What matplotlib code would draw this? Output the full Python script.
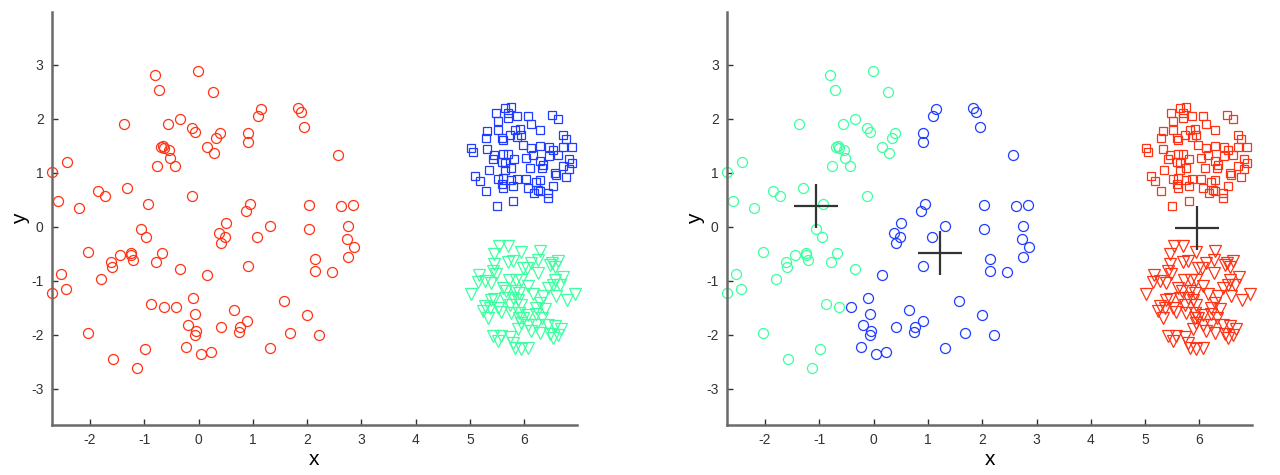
import numpy as np
import matplotlib
matplotlib.use("Agg")
import matplotlib.pyplot as plt

plt.rcParams['font.family'] = ['Liberation Sans', 'DejaVu Sans']
plt.rcParams['axes.unicode_minus'] = False

# ---- data: ring-like group (circles) ----
circ_x = [-0.81, -0.72, -1.38, -2.43, -2.70, -0.76, -1.85, -1.73, -1.31, -2.59,
          -2.20, -0.94, -0.01, 0.26, -0.56, -0.35, -0.13, -0.07, 0.39, 0.33,
          1.15, 1.09, 0.91, 0.91, -0.69, -0.66, -0.63, -0.55, -0.52, -0.44,
          0.15, 0.29, -0.13, 0.94, 0.87, 0.51, 1.83, 1.89, 1.95, 2.57,
          2.04, 2.63, 2.84, 1.31, -1.06, -0.96, -2.04, -1.62, -1.60, -1.45,
          -1.25, -1.24, -1.21, -0.68, -0.79, -2.53, -1.79, -2.44, -2.70, -0.88,
          -2.04, -0.99, -1.57, -1.13, 0.37, 0.48, 0.42, 1.07, -0.35, 0.15,
          0.91, -0.10, -0.63, -0.42, -0.07, 0.65, -0.20, -0.04, -0.06, 0.42,
          0.90, 0.76, 0.74, -0.23, 0.05, 0.23, 1.31, 2.03, 2.75, 2.73,
          2.86, 2.75, 2.14, 2.14, 2.45, 1.58, 1.99, 1.68, 2.21]
circ_y = [2.81, 2.54, 1.90, 1.21, 1.01, 1.13, 0.67, 0.58, 0.72, 0.47,
          0.35, 0.42, 2.89, 2.49, 1.90, 2.00, 1.83, 1.76, 1.73, 1.64,
          2.18, 2.06, 1.73, 1.58, 1.48, 1.49, 1.46, 1.43, 1.28, 1.12,
          1.47, 1.36, 0.58, 0.42, 0.30, 0.08, 2.21, 2.12, 1.85, 1.33,
          0.41, 0.38, 0.41, 0.02, -0.04, -0.19, -0.46, -0.66, -0.75, -0.52,
          -0.48, -0.52, -0.62, -0.49, -0.65, -0.88, -0.97, -1.15, -1.23, -1.43,
          -1.96, -2.26, -2.44, -2.61, -0.12, -0.18, -0.30, -0.19, -0.78, -0.90,
          -0.73, -1.31, -1.48, -1.48, -1.62, -1.54, -1.81, -1.92, -2.00, -1.86,
          -1.75, -1.86, -1.95, -2.22, -2.35, -2.32, -2.24, -0.04, 0.01, -0.23,
          -0.38, -0.55, -0.60, -0.81, -0.84, -1.37, -1.64, -1.97, -2.00]

# ---- data: upper compact group (squares) ----
sq_x = [5.76, 5.64, 5.70, 5.48, 5.52, 5.69, 5.86, 5.32, 5.30, 5.51,
        5.58, 5.61, 5.73, 5.82, 5.92, 5.86, 5.94, 5.01, 5.06, 5.32,
        5.45, 5.43, 5.61, 5.70, 5.58, 5.64, 5.81, 5.76, 5.34, 5.64,
        5.10, 5.18, 5.52, 5.61, 5.75, 5.86, 5.58, 5.30, 5.61, 5.80,
        5.49, 5.80, 5.98, 6.06, 6.50, 6.62, 6.13, 6.28, 6.71, 6.77,
        6.13, 6.28, 6.45, 6.52, 6.71, 6.88, 6.16, 6.62, 6.03, 6.28,
        6.45, 6.34, 6.33, 6.83, 6.88, 6.10, 6.71, 6.83, 6.57, 6.59,
        6.77, 6.03, 6.06, 6.21, 6.29, 6.52, 6.25, 6.17, 6.43, 6.28,
        6.43]
sq_y = [2.22, 2.20, 2.11, 2.11, 1.96, 2.01, 2.05, 1.78, 1.65, 1.80,
        1.65, 1.60, 1.70, 1.80, 1.82, 1.66, 1.71, 1.46, 1.39, 1.45,
        1.33, 1.25, 1.35, 1.35, 1.20, 1.19, 1.25, 1.09, 1.06, 1.06,
        0.94, 0.85, 0.88, 0.91, 0.86, 0.89, 0.80, 0.66, 0.72, 0.75,
        0.39, 0.48, 1.52, 2.06, 2.07, 1.99, 1.91, 1.79, 1.70, 1.62,
        1.46, 1.49, 1.48, 1.43, 1.48, 1.48, 1.33, 1.33, 1.28, 1.22,
        1.31, 1.14, 1.09, 1.25, 1.19, 1.09, 1.12, 1.08, 1.00, 0.96,
        0.92, 0.89, 0.72, 0.83, 0.86, 0.75, 0.69, 0.63, 0.63, 0.67,
        0.54]

# ---- data: lower compact group (triangles) ----
tri_x = [5.54, 5.70, 5.45, 5.94, 5.45, 5.70, 5.79, 5.97, 5.17, 5.42,
         5.48, 5.14, 5.27, 5.39, 5.71, 5.85, 5.94, 5.02, 5.60, 5.67,
         5.82, 5.91, 5.45, 5.39, 5.64, 5.79, 5.88, 5.27, 5.36, 5.51,
         5.73, 5.94, 5.24, 5.57, 5.76, 5.91, 5.33, 5.91, 5.94, 5.88,
         5.42, 5.57, 5.73, 5.51, 5.79, 5.82, 5.94, 6.29, 6.13, 6.26,
         6.50, 6.62, 6.47, 6.56, 6.04, 6.26, 6.56, 6.72, 6.53, 6.65,
         6.07, 6.44, 6.93, 6.16, 6.35, 6.59, 6.78, 6.29, 6.22, 6.38,
         6.07, 6.22, 6.32, 5.98, 6.07, 6.22, 6.44, 6.56, 6.68, 6.13,
         6.29, 6.47, 6.62, 6.53, 6.07]
tri_y = [-0.36, -0.36, -0.50, -0.46, -0.69, -0.65, -0.64, -0.77, -0.89, -0.82,
         -0.88, -1.02, -1.01, -1.04, -0.99, -0.98, -0.98, -1.25, -1.14, -1.19,
         -1.19, -1.22, -1.33, -1.36, -1.31, -1.31, -1.35, -1.47, -1.50, -1.50,
         -1.44, -1.44, -1.55, -1.57, -1.59, -1.59, -1.69, -1.69, -1.78, -1.90,
         -2.02, -2.02, -2.04, -2.12, -2.15, -2.24, -2.27, -0.45, -0.67, -0.62,
         -0.67, -0.64, -0.71, -0.75, -0.77, -0.85, -0.98, -0.93, -1.07, -1.07,
         -1.10, -1.13, -1.24, -1.25, -1.28, -1.28, -1.36, -1.41, -1.50, -1.53,
         -1.64, -1.61, -1.69, -1.69, -1.82, -1.82, -1.82, -1.84, -1.90, -1.93,
         -1.96, -1.99, -2.01, -2.06, -2.24]

# ---- k-means centroids (right panel) ----
cent_x = [-1.06, 1.22, 5.95]
cent_y = [0.39, -0.49, -0.02]

x_ticks = [-2, -1, 0, 1, 2, 3, 4, 5, 6]
y_ticks = [-3, -2, -1, 0, 1, 2, 3]

RED = '#ff3314'
BLUE = '#1f3cff'
GREEN = '#3dffa0'
cluster_colors = [GREEN, BLUE, RED]

fig = plt.figure(figsize=(12.8, 4.75), dpi=100)
ax1 = fig.add_axes([0.0406, 0.1053, 0.4102, 0.8695])
ax2 = fig.add_axes([0.5680, 0.1053, 0.4102, 0.8695])

def style(ax):
    ax.set_xlim(-2.7, 6.97)
    ax.set_ylim(-3.67, 3.98)
    ax.set_xticks(x_ticks)
    ax.set_yticks(y_ticks)
    for s in ['top', 'right']:
        ax.spines[s].set_visible(False)
    for s in ['left', 'bottom']:
        ax.spines[s].set_color('#6a6a6a')
        ax.spines[s].set_linewidth(1.8)
    ax.tick_params(direction='in', length=4, width=1, color='#333333',
                   labelsize=10, labelcolor='#333333', pad=6)
    ax.set_xlabel('x', fontsize=15, labelpad=2)
    ax.set_ylabel('y', fontsize=15, labelpad=1)

ms_c, ms_s, ms_t = 7.2, 6.4, 8.2
lw = 0.9

# left panel: true groups
ax1.plot(circ_x, circ_y, 'o', ms=ms_c, mfc='none', mec=RED, mew=lw, ls='none', clip_on=False)
ax1.plot(sq_x, sq_y, 's', ms=ms_s, mfc='none', mec=BLUE, mew=lw, ls='none', clip_on=False)
ax1.plot(tri_x, tri_y, 'v', ms=ms_t, mfc='none', mec=GREEN, mew=lw, ls='none', clip_on=False)
style(ax1)

# right panel: nearest-centroid assignment
cx = np.array(cent_x); cy = np.array(cent_y)
def assign(xs, ys):
    xs = np.asarray(xs); ys = np.asarray(ys)
    d = (xs[:, None] - cx[None, :]) ** 2 + (ys[:, None] - cy[None, :]) ** 2
    return d.argmin(axis=1)

for xs, ys, mk, ms in [(circ_x, circ_y, 'o', ms_c), (sq_x, sq_y, 's', ms_s),
                       (tri_x, tri_y, 'v', ms_t)]:
    lab = assign(xs, ys)
    xs = np.asarray(xs); ys = np.asarray(ys)
    for k in range(3):
        m = lab == k
        if m.any():
            ax2.plot(xs[m], ys[m], mk, ms=ms, mfc='none', mec=cluster_colors[k],
                     mew=lw, ls='none', clip_on=False)
ax2.plot(cent_x, cent_y, '+', ms=32, mew=1.6, color='#333333', ls='none')
style(ax2)

fig.savefig('out.png', dpi=100)
